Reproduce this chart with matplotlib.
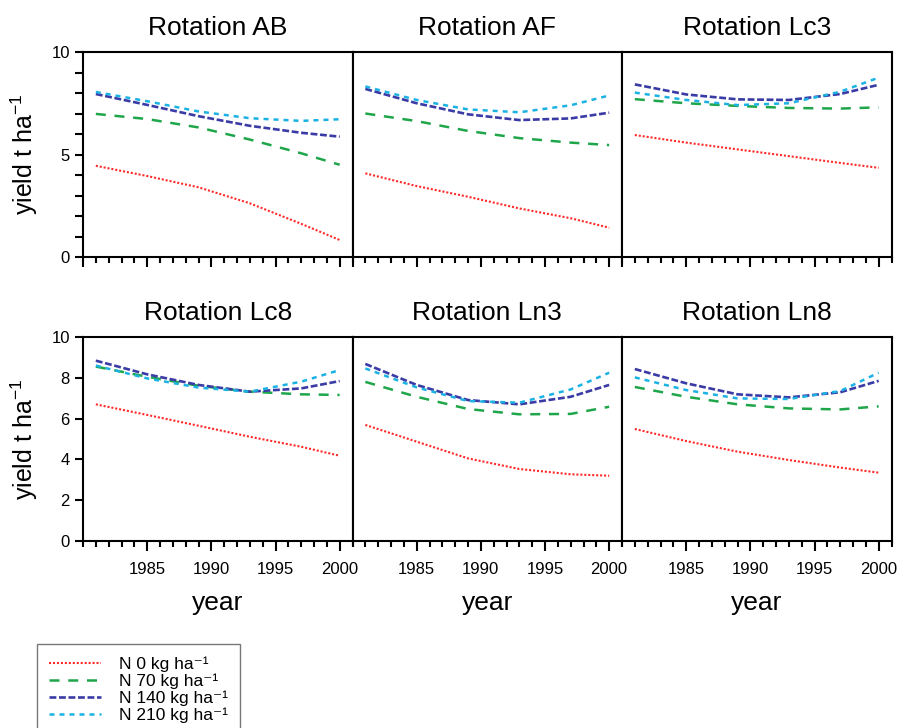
import matplotlib
matplotlib.use('Agg')
import matplotlib.pyplot as plt
from matplotlib.ticker import MultipleLocator
from matplotlib.lines import Line2D

plt.rcParams['font.family'] = ['Liberation Sans', 'DejaVu Sans']
plt.rcParams['mathtext.fontset'] = 'custom'
plt.rcParams['mathtext.rm'] = 'Liberation Sans'
plt.rcParams['mathtext.it'] = 'Liberation Sans'

years = [1981, 1985, 1989, 1993, 1997, 2000]

# yield t/ha, one list per rotation and N rate
ab_n0 = [4.45, 3.95, 3.40, 2.62, 1.62, 0.83]
ab_n70 = [6.98, 6.73, 6.32, 5.73, 5.06, 4.50]
ab_n140 = [7.95, 7.42, 6.87, 6.40, 6.06, 5.87]
ab_n210 = [8.05, 7.60, 7.10, 6.77, 6.64, 6.72]

af_n0 = [4.08, 3.46, 2.94, 2.37, 1.89, 1.43]
af_n70 = [7.00, 6.63, 6.15, 5.80, 5.58, 5.46]
af_n140 = [8.20, 7.50, 6.96, 6.68, 6.76, 7.04]
af_n210 = [8.32, 7.66, 7.20, 7.06, 7.40, 7.88]

lc3_n0 = [5.95, 5.58, 5.25, 4.92, 4.59, 4.35]
lc3_n70 = [7.70, 7.50, 7.37, 7.27, 7.24, 7.30]
lc3_n140 = [8.42, 7.93, 7.69, 7.66, 7.95, 8.40]
lc3_n210 = [8.02, 7.66, 7.41, 7.50, 8.06, 8.75]

lc8_n0 = [6.70, 6.18, 5.65, 5.11, 4.62, 4.18]
lc8_n70 = [8.55, 8.05, 7.61, 7.32, 7.19, 7.16]
lc8_n140 = [8.84, 8.17, 7.65, 7.32, 7.48, 7.84]
lc8_n210 = [8.60, 7.97, 7.52, 7.32, 7.81, 8.38]

ln3_n0 = [5.69, 4.87, 4.05, 3.53, 3.27, 3.20]
ln3_n70 = [7.80, 7.07, 6.47, 6.21, 6.23, 6.58]
ln3_n140 = [8.68, 7.65, 6.91, 6.70, 7.07, 7.65]
ln3_n210 = [8.46, 7.53, 6.86, 6.78, 7.43, 8.25]

ln8_n0 = [5.49, 4.90, 4.38, 3.97, 3.60, 3.35]
ln8_n70 = [7.55, 7.07, 6.70, 6.50, 6.45, 6.60]
ln8_n140 = [8.43, 7.73, 7.19, 7.04, 7.29, 7.85]
ln8_n210 = [8.02, 7.40, 6.99, 6.96, 7.35, 8.25]

titles = ['Rotation AB', 'Rotation AF', 'Rotation Lc3',
          'Rotation Lc8', 'Rotation Ln3', 'Rotation Ln8']
panels = [[ab_n0, ab_n70, ab_n140, ab_n210],
          [af_n0, af_n70, af_n140, af_n210],
          [lc3_n0, lc3_n70, lc3_n140, lc3_n210],
          [lc8_n0, lc8_n70, lc8_n140, lc8_n210],
          [ln3_n0, ln3_n70, ln3_n140, ln3_n210],
          [ln8_n0, ln8_n70, ln8_n140, ln8_n210]]

labels = ['N 0 kg ha\u207b\u00b9', 'N 70 kg ha\u207b\u00b9',
          'N 140 kg ha\u207b\u00b9', 'N 210 kg ha\u207b\u00b9']
colors = ['#ff2a2a', '#1fa64a', '#3b3ba6', '#1ab2e3']
widths = [1.5, 1.8, 1.9, 1.8]
dashes = [(1, 0.9), (4, 3.5), (2.6, 1.0), (2.0, 2.0)]

W, H = 899, 728
fig = plt.figure(figsize=(W / 100, H / 100), dpi=100)

pw = 269.5
lefts = [83, 83 + pw, 83 + 2 * pw]
rows = [(52, 257), (337, 541)]

for k in range(6):
    r, c = divmod(k, 3)
    top, bot = rows[r]
    ax = fig.add_axes([lefts[c] / W, 1 - bot / H, pw / W, (bot - top) / H])
    for s in range(4):
        ax.plot(years, panels[k][s], color=colors[s], lw=widths[s],
                dashes=dashes[s])
    ax.set_xlim(1980, 2001)
    ax.set_ylim(0, 10)
    ax.set_title(titles[k], fontsize=19, pad=12)
    for sp in ax.spines.values():
        sp.set_linewidth(1.5)
    ax.xaxis.set_major_locator(MultipleLocator(5))
    ax.xaxis.set_minor_locator(MultipleLocator(1))
    ax.tick_params(axis='x', which='major', direction='out', length=7,
                   width=1.5, labelsize=12, pad=8)
    ax.tick_params(axis='x', which='minor', direction='out', length=4.5,
                   width=1.5)
    if r == 0:
        ax.tick_params(axis='x', labelbottom=False)
        ax.yaxis.set_major_locator(MultipleLocator(5))
        ax.yaxis.set_minor_locator(MultipleLocator(1))
    else:
        ax.set_xticks([1985, 1990, 1995, 2000])
        ax.xaxis.set_minor_locator(MultipleLocator(1))
        ax.yaxis.set_major_locator(MultipleLocator(2))
        ax.set_xlabel('year', fontsize=19, labelpad=10)
    if c == 0:
        ax.tick_params(axis='y', which='both', direction='out', length=6,
                       width=1.5, labelsize=12)
        ax.set_ylabel('yield t ha$^{-1}$', fontsize=18, labelpad=8)
    else:
        ax.tick_params(axis='y', which='both', left=False, labelleft=False)

handles = [Line2D([], [], color=colors[s], lw=widths[s], dashes=dashes[s])
           for s in range(4)]
leg = fig.legend(handles, labels, loc='upper left',
                 bbox_to_anchor=(37 / W, 1 - 644 / H), fontsize=12.5,
                 frameon=True, fancybox=False, handlelength=3.0,
                 handletextpad=1.0, labelspacing=0.1, borderpad=0.7,
                 borderaxespad=0)
leg.get_frame().set_edgecolor('#555555')
leg.get_frame().set_linewidth(1.0)

fig.savefig('out.png', dpi=100)
